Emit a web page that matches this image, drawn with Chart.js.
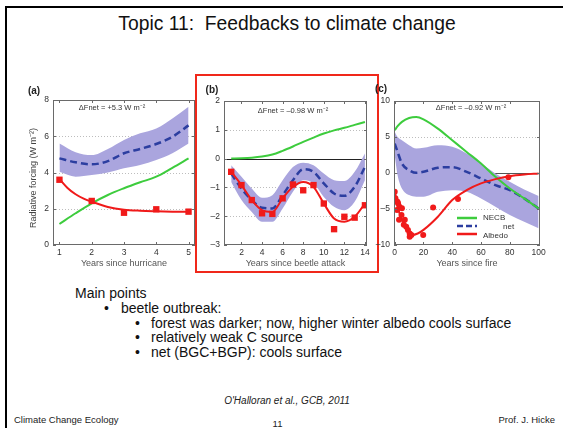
<!DOCTYPE html>
<html>
<head>
<meta charset="utf-8">
<script src="https://cdn.jsdelivr.net/npm/chart.js@4.4.1/dist/chart.umd.min.js"></script>
<style>
  body { margin: 0; width: 563px; height: 428px; background: #fff; position: relative; overflow: hidden;
         font-family: "Liberation Sans", Arial, sans-serif; color: #111; }
  .t { position: absolute; white-space: nowrap; }
  .m { font-size: 14px; line-height: 16px; }
  canvas { position: absolute; }
</style>
</head>
<body>
<div class="t" style="left:5px;top:6px;width:600px;height:500px;border-left:2.5px solid #000;border-top:2.5px solid #000;"></div>
<div class="t" style="left:0;width:574px;top:13px;font-size:19.3px;line-height:22px;text-align:center;">Topic 11:&nbsp; Feedbacks to climate change</div>
<div class="t" style="left:195px;top:74px;width:184px;height:199px;border:2px solid #f0281a;box-sizing:border-box;"></div>

<canvas id="chartA" width="185" height="195" style="left:15px;top:78px;"></canvas>
<canvas id="chartB" width="176" height="195" style="left:199px;top:78px;"></canvas>
<canvas id="chartC" width="185" height="195" style="left:372px;top:78px;"></canvas>

<div class="t m" style="left:75px;top:285px;">Main points</div>
<div class="t m" style="left:104px;top:300px;">•</div>
<div class="t m" style="left:121px;top:300px;">beetle outbreak:</div>
<div class="t m" style="left:135px;top:315px;">•</div>
<div class="t m" style="left:151px;top:315px;">forest was darker; now, higher winter albedo cools surface</div>
<div class="t m" style="left:135px;top:329px;">•</div>
<div class="t m" style="left:151px;top:329px;">relatively weak C source</div>
<div class="t m" style="left:135px;top:344px;">•</div>
<div class="t m" style="left:151px;top:344px;">net (BGC+BGP): cools surface</div>

<div class="t" style="left:0;width:574px;top:395px;font-size:10px;line-height:12px;text-align:center;font-style:italic;color:#222;">O'Halloran et al., GCB, 2011</div>
<div class="t" style="left:14px;top:414px;font-size:9.5px;line-height:11px;color:#222;">Climate Change Ecology</div>
<div class="t" style="left:0;width:555px;top:418px;font-size:9.5px;line-height:11px;text-align:center;color:#222;">11</div>
<div class="t" style="right:8px;top:414px;font-size:9.5px;line-height:11px;color:#222;">Prof. J. Hicke</div>

<script>
// series names
const seriesNames = ['NECB', 'net', 'Albedo'];

// (a) years since hurricane
const yearsA = [1, 1.5, 2, 2.5, 3, 3.5, 4, 4.5, 5];
const netA = [4.78, 4.56, 4.45, 4.63, 5.06, 5.3, 5.57, 5.97, 6.6];
const netHiA = [5.6, 5.12, 4.96, 5.3, 5.8, 6.16, 6.43, 6.98, 7.63];
const netLoA = [4.04, 3.77, 3.86, 4.0, 4.23, 4.41, 4.69, 5.06, 5.6];
const necbA = [1.16, 1.75, 2.3, 2.76, 3.13, 3.46, 3.77, 4.26, 4.78];
const albFitYearsA = [1, 1.25, 1.5, 1.75, 2, 2.5, 3, 3.5, 4, 4.5, 5];
const albFitA = [3.64, 3.15, 2.8, 2.56, 2.39, 2.1, 1.95, 1.89, 1.86, 1.84, 1.83];
const albObsYearsA = [1, 2, 3, 4, 5];
const albObsA = [3.6, 2.43, 1.78, 1.97, 1.84];
const xTicksA = [1, 2, 3, 4, 5];
const yTicksA = [0, 2, 4, 6, 8];

// (b) years since beetle attack
const yearsB = [1, 2, 3, 4, 5, 6, 7, 8, 9, 10, 11, 12, 13, 14];
const netB = [-0.52, -1.04, -1.44, -1.71, -1.73, -1.27, -0.75, -0.37, -0.46, -0.86, -1.21, -1.29, -0.98, -0.29];
const netHiB = [-0.23, -0.63, -1.04, -1.36, -1.27, -0.75, -0.29, -0.14, -0.23, -0.52, -0.75, -0.78, -0.46, 0.18];
const netLoB = [-0.81, -1.44, -1.85, -2.19, -2.19, -1.73, -1.15, -0.75, -0.86, -1.33, -1.67, -1.79, -1.5, -0.75];
const necbB = [0.0, 0.01, 0.03, 0.07, 0.14, 0.27, 0.42, 0.58, 0.73, 0.87, 0.98, 1.07, 1.17, 1.27];
const albFitB = [-0.46, -0.92, -1.44, -1.79, -1.85, -1.38, -0.98, -0.81, -0.98, -1.56, -2.08, -2.19, -2.02, -1.56];
const albObsB = [-0.46, -0.92, -1.44, -1.9, -1.92, -1.38, -0.9, -1.1, -0.92, -1.56, -2.45, -2.02, -2.05, -1.62];
const xTicksB = [2, 4, 6, 8, 10, 12, 14];
const yTicksB = [-3, -2, -1, 0, 1, 2];

// (c) years since fire
const yearsC = [0, 2, 5, 10, 15, 20, 30, 40, 50, 60, 70, 80, 90, 100];
const netC = [4.09, 2.93, 1.32, 0.39, 0.02, 0.16, 0.72, 0.81, 0.16, -0.76, -1.69, -2.38, -3.53, -4.92];
const netHiC = [5.7, 5.0, 4.55, 3.86, 3.4, 3.49, 3.86, 3.63, 2.7, 1.32, -0.07, -1.22, -2.3, -3.2];
const netLoC = [2.47, -0.3, -2.15, -3.07, -3.3, -3.3, -2.61, -2.38, -2.61, -3.53, -4.69, -5.84, -6.77, -7.69];
const necbC = [5.94, 6.5, 7.1, 7.64, 7.78, 7.46, 6.17, 4.55, 2.93, 1.32, -0.53, -2.15, -3.53, -4.92];
const albFitYearsC = [0, 1, 2, 4, 6, 8, 10, 12, 16, 20, 30, 40, 50, 60, 70, 80, 90, 100];
const albFitC = [-2.4, -3.6, -4.6, -6.0, -7.0, -7.8, -8.4, -8.6, -8.4, -7.9, -6.07, -3.76, -2.38, -1.45, -0.85, -0.44, -0.21, -0.07];
const albObsYearsC = [0, 0.5, 1.6, 1.9, 2.3, 3.3, 3, 4.7, 5, 6.3, 7, 8, 9.2, 10.4, 10.4, 11.6, 19.8, 26.7, 44, 79];
const albObsC = [-2.6, -3.5, -5.15, -4.0, -4.2, -4.7, -6.5, -5.85, -4.9, -7.2, -6.5, -7.45, -7.9, -8.4, -8.85, -8.6, -8.6, -4.78, -3.6, -0.6];
const xTicksC = [0, 20, 40, 60, 80, 100];
const yTicksC = [-10, -5, 0, 5, 10];

const GREEN = '#3dcc3d', BLUE = '#2c3ea0', RED = '#f01a1a', BAND = '#aaa5de';
const FONT = '"Liberation Sans", Arial, sans-serif';

function pts(xs, ys) {
  return xs.map((x, i) => ({ x: x, y: ys[i] }));
}

function fmt(v) {
  return String(v).replace('-', '\u2013');
}

const decor = {
  id: 'decor',
  beforeDatasetsDraw(chart, args, o) {
    const { ctx, chartArea: a, scales: { x, y } } = chart;
    ctx.save();
    ctx.lineWidth = 1;
    y.ticks.forEach(t => {
      if (t.value <= y.min || t.value >= y.max) return;
      const py = Math.round(y.getPixelForValue(t.value)) + 0.5;
      ctx.beginPath();
      if (t.value === 0 && o.zero) {
        ctx.setLineDash([]);
        ctx.strokeStyle = o.zero;
      } else {
        ctx.setLineDash([1, 2]);
        ctx.strokeStyle = '#bdbdbd';
      }
      ctx.moveTo(a.left, py);
      ctx.lineTo(a.right, py);
      ctx.stroke();
    });
    ctx.restore();
  },
  afterDatasetsDraw(chart, args, o) {
    const { ctx, chartArea: a, scales: { x, y } } = chart;
    ctx.save();
    ctx.strokeStyle = '#6a6a6a';
    ctx.lineWidth = 1;
    ctx.strokeRect(Math.round(a.left) + 0.5, Math.round(a.top) + 0.5,
                   Math.round(a.right - a.left) - 1, Math.round(a.bottom - a.top) - 1);
    ctx.beginPath();
    x.ticks.forEach(t => {
      const px = Math.round(x.getPixelForValue(t.value)) + 0.5;
      ctx.moveTo(px, a.bottom); ctx.lineTo(px, a.bottom - 3);
      ctx.moveTo(px, a.top); ctx.lineTo(px, a.top + 3);
    });
    y.ticks.forEach(t => {
      const py = Math.round(y.getPixelForValue(t.value)) + 0.5;
      ctx.moveTo(a.left, py); ctx.lineTo(a.left + 3, py);
      ctx.moveTo(a.right, py); ctx.lineTo(a.right - 3, py);
    });
    ctx.stroke();

    ctx.fillStyle = '#222';
    ctx.textBaseline = 'middle';
    ctx.textAlign = 'center';
    ctx.font = 'bold 10px ' + FONT;
    ctx.fillText(o.label, o.labelX, o.labelY);
    ctx.font = '7.5px ' + FONT;
    ctx.fillStyle = '#333';
    ctx.fillText(o.note, o.noteX, o.noteY);

    if (o.yTitle) {
      ctx.save();
      ctx.translate(o.yTitleX, o.yTitleY);
      ctx.rotate(-Math.PI / 2);
      ctx.font = '9px ' + FONT;
      ctx.fillStyle = '#444';
      ctx.fillText(o.yTitle, 0, 0);
      ctx.restore();
    }

    if (o.legend) {
      const rows = [
        { color: GREEN, dash: [], width: 2.5, tx: 111, ly: 140, ty: 140 },
        { color: BLUE, dash: [6, 3], width: 2.5, tx: 131, ly: 148, ty: 149 },
        { color: RED, dash: [], width: 2.5, tx: 111, ly: 156, ty: 158 }
      ];
      ctx.textAlign = 'left';
      ctx.font = '8px ' + FONT;
      rows.forEach((r, i) => {
        ctx.beginPath();
        ctx.setLineDash(r.dash);
        ctx.strokeStyle = r.color;
        ctx.lineWidth = r.width;
        ctx.moveTo(85, r.ly); ctx.lineTo(105, r.ly);
        ctx.stroke();
        ctx.fillStyle = '#333';
        ctx.fillText(seriesNames[i], r.tx, r.ty);
      });
    }
    ctx.restore();
  }
};

function makePanel(id, p) {
  return new Chart(document.getElementById(id), {
    type: 'line',
    data: {
      datasets: [
        { data: pts(p.years, p.hi), borderWidth: 0, pointRadius: 0, fill: false, order: 9 },
        { data: pts(p.years, p.lo), borderWidth: 0, pointRadius: 0, fill: '-1', backgroundColor: BAND, order: 8 },
        { label: seriesNames[1], data: pts(p.years, p.net), borderColor: BLUE, borderWidth: 2.5, borderDash: [7, 4], pointRadius: 0, order: 3 },
        { label: seriesNames[0], data: pts(p.years, p.necb), borderColor: GREEN, borderWidth: 2, pointRadius: 0, order: 2 },
        { label: seriesNames[2], data: pts(p.fitYears, p.fit), borderColor: RED, borderWidth: 2, pointRadius: 0, order: 1 },
        { data: pts(p.obsYears, p.obs), showLine: false, pointStyle: p.marker, pointRadius: p.markerR,
          backgroundColor: RED, borderColor: RED, borderWidth: 0, order: 0 }
      ]
    },
    options: {
      responsive: false,
      animation: false,
      events: [],
      layout: { padding: { top: p.padTop, right: p.padRight, left: 0, bottom: 0 } },
      elements: { line: { cubicInterpolationMode: 'monotone' } },
      scales: {
        x: {
          type: 'linear', min: p.xMin, max: p.xMax,
          grid: { display: false, drawTicks: false }, border: { display: false },
          afterBuildTicks: s => { s.ticks = p.xTicks.map(v => ({ value: v })); },
          afterFit: s => { s.height = 28; },
          ticks: { autoSkip: false, maxRotation: 0, padding: 3, color: '#333', font: { family: FONT, size: 8.5 }, callback: fmt },
          title: { display: true, text: p.xTitle, color: '#555', font: { family: FONT, size: 9 }, padding: { top: 0, bottom: 4 } }
        },
        y: {
          type: 'linear', min: p.yMin, max: p.yMax,
          grid: { display: false, drawTicks: false }, border: { display: false },
          afterBuildTicks: s => { s.ticks = p.yTicks.map(v => ({ value: v })); },
          afterFit: s => { s.width = p.yWidth; },
          ticks: { autoSkip: false, padding: 4, color: '#333', font: { family: FONT, size: 8.5 }, callback: fmt }
        }
      },
      plugins: {
        legend: { display: false },
        tooltip: { enabled: false },
        decor: p.decor
      }
    },
    plugins: [decor]
  });
}

makePanel('chartA', {
  years: yearsA, hi: netHiA, lo: netLoA, net: netA, necb: necbA,
  fitYears: albFitYearsA, fit: albFitA, obsYears: albObsYearsA, obs: albObsA,
  marker: 'rect', markerR: 4.5,
  xMin: 0.8, xMax: 5.2, yMin: 0, yMax: 8, xTicks: xTicksA, yTicks: yTicksA,
  yWidth: 38, padTop: 22, padRight: 5,
  xTitle: 'Years since hurricane',
  decor: { label: '(a)', labelX: 19, labelY: 13, note: '\u0394Fnet = +5.3 W m\u207B\u00B2', noteX: 97, noteY: 30,
           yTitle: 'Radiative forcing (W m\u207B\u00B2)', yTitleX: 19, yTitleY: 100 }
});

makePanel('chartB', {
  years: yearsB, hi: netHiB, lo: netLoB, net: netB, necb: necbB,
  fitYears: yearsB, fit: albFitB, obsYears: yearsB, obs: albObsB,
  marker: 'rect', markerR: 4.5,
  xMin: 0.3, xMax: 14.2, yMin: -3, yMax: 2, xTicks: xTicksB, yTicks: yTicksB,
  yWidth: 25, padTop: 23, padRight: 8,
  xTitle: 'Years since beetle attack',
  decor: { label: '(b)', labelX: 13, labelY: 12, note: '\u0394Fnet = \u20130.98 W m\u207B\u00B2', noteX: 94, noteY: 33, zero: '#222' }
});

makePanel('chartC', {
  years: yearsC, hi: netHiC, lo: netLoC, net: netC, necb: necbC,
  fitYears: albFitYearsC, fit: albFitC, obsYears: albObsYearsC, obs: albObsC,
  marker: 'circle', markerR: 3,
  xMin: -0.5, xMax: 101, yMin: -10, yMax: 10, xTicks: xTicksC, yTicks: yTicksC,
  yWidth: 22, padTop: 23, padRight: 17,
  xTitle: 'Years since fire',
  decor: { label: '(c)', labelX: 9, labelY: 11, note: '\u0394Fnet = \u20130.92 W m\u207B\u00B2', noteX: 99, noteY: 30, zero: '#555', legend: true }
});
</script>
</body>
</html>
